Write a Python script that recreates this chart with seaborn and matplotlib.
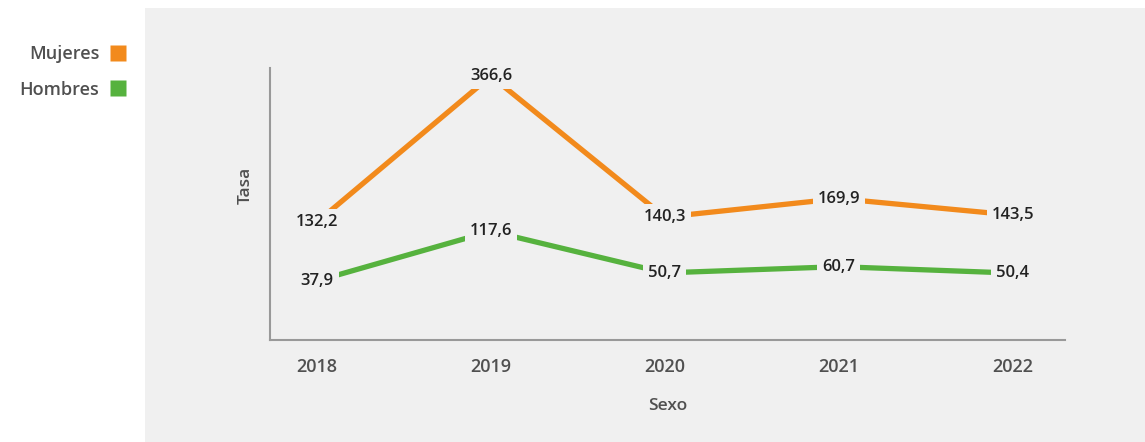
import matplotlib.pyplot as plt
import pandas as pd
import seaborn as sns
from matplotlib.lines import Line2D
from matplotlib.patches import Rectangle

years = [2018, 2019, 2020, 2021, 2022]
mujeres = [132.2, 366.6, 140.3, 169.9, 143.5]
hombres = [37.9, 117.6, 50.7, 60.7, 50.4]
series = ["Mujeres", "Hombres"]
colors = {"Mujeres": "#F28A1C", "Hombres": "#56B23E"}

df = pd.DataFrame({
    "Sexo": ["Mujeres"] * len(years) + ["Hombres"] * len(years),
    "Año": years + years,
    "Tasa": mujeres + hombres,
})

bg = "#F0F0F0"
sns.set_theme(style="white")
plt.rcParams["font.family"] = ["Open Sans", "DejaVu Sans"]

fig = plt.figure(figsize=(11.45, 4.42), dpi=100)
fig.patch.set_facecolor("white")
fig.patches.append(Rectangle((145 / 1145, 0), 1 - 145 / 1145, 1 - 8 / 442,
                             transform=fig.transFigure, facecolor=bg,
                             edgecolor="none", zorder=-5))

ax = fig.add_axes([270 / 1145, 1 - 340 / 442, 795 / 1145, 272 / 442])
ax.set_facecolor(bg)
sns.lineplot(data=df, x="Año", y="Tasa", hue="Sexo", palette=colors,
             linewidth=3.8, legend=False, ax=ax)

for _, row in df.iterrows():
    ax.text(row["Año"], row["Tasa"], f"{row['Tasa']:.1f}".replace(".", ","),
            ha="center", va="center", fontsize=12, color="#222222",
            fontweight="semibold",
            bbox=dict(boxstyle="square,pad=0.3", facecolor=bg, edgecolor="none"))

ax.set_xlim(2017.73, 2022.30)
ax.set_ylim(-57, 379.5)
ax.set_xticks(years)
ax.set_xticklabels([str(y) for y in years], fontsize=13, color="#505050",
                   fontweight="semibold")
ax.set_yticks([])
ax.tick_params(axis="x", length=0, pad=13)
for s in ["top", "right"]:
    ax.spines[s].set_visible(False)
for s in ["left", "bottom"]:
    ax.spines[s].set_color("#999999")
    ax.spines[s].set_linewidth(1.5)

ax.set_xlabel("Sexo", fontsize=12.5, color="#505050", labelpad=16,
              fontweight="semibold")
ax.set_ylabel("Tasa", fontsize=12.5, color="#505050", fontweight="semibold")
ax.yaxis.set_label_coords(-0.021, 0.57)

handles = [Line2D([], [], marker="s", linestyle="none", markersize=11,
                  markerfacecolor=colors[s], markeredgecolor="none") for s in series]
fig.legend(handles, series, loc="upper left", bbox_to_anchor=(0.003, 0.934),
           frameon=False, markerfirst=False, handlelength=1.0,
           prop={"size": 13, "weight": "semibold"}, handletextpad=0.55,
           labelspacing=0.95, labelcolor="#505050")

fig.savefig("out.png", dpi=100)
